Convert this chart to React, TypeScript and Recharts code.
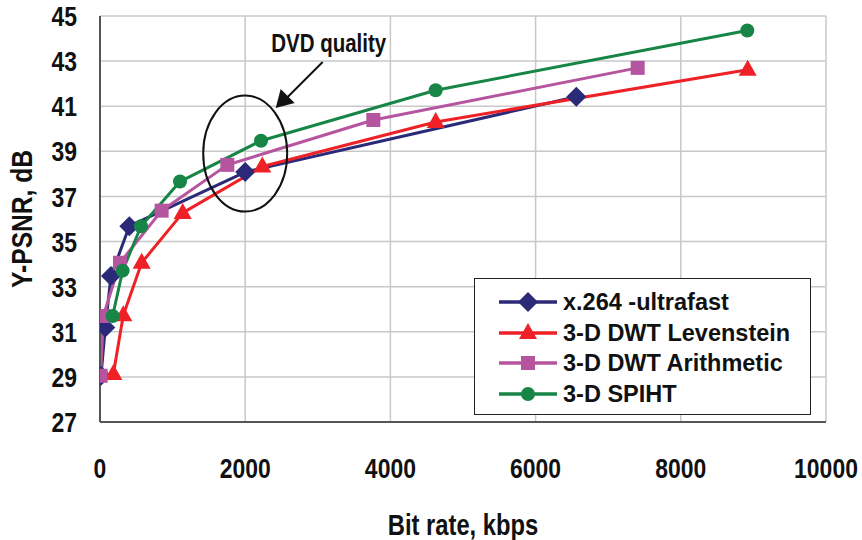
import React from "react";
import { LineChart, Line, XAxis, YAxis, CartesianGrid, ReferenceDot } from "recharts";

// bit rate (kbps) / Y-PSNR (dB)
const x264Rate = [14, 73, 151, 404, 2000, 6561];
const x264Psnr = [29.05, 31.19, 33.47, 35.68, 38.08, 41.42];
const levRate = [184, 321, 574, 1139, 2236, 4624, 8921];
const levPsnr = [29.13, 31.73, 34.06, 36.27, 38.33, 40.3, 42.62];
const arithRate = [9, 46, 275, 849, 1754, 3765, 7406];
const arithPsnr = [29.05, 31.7, 34.06, 36.37, 38.4, 40.39, 42.7];
const spihtRate = [174, 312, 565, 1102, 2218, 4624, 8916];
const spihtPsnr = [31.7, 33.71, 35.68, 37.66, 39.47, 41.71, 44.36];

const xTicks = [0, 2000, 4000, 6000, 8000, 10000];
const yTicks = [27, 29, 31, 33, 35, 37, 39, 41, 43, 45];

const FONT = "'Liberation Sans', Arial, sans-serif";
// no narrow font installed, so the condensed look is faked with a horizontal squeeze
const SQUEEZE = "scale(0.82,1)";

const zip = (xs: number[], ys: number[]) => xs.map((x, i) => ({ rate: x, psnr: ys[i] }));

type Marker = "diamond" | "triangle" | "square" | "circle";

const series = [
  { name: "x.264 -ultrafast", color: "#2b2a78", marker: "diamond" as Marker, data: zip(x264Rate, x264Psnr) },
  { name: "3-D DWT Levenstein", color: "#ee2226", marker: "triangle" as Marker, data: zip(levRate, levPsnr) },
  { name: "3-D DWT Arithmetic", color: "#b6559f", marker: "square" as Marker, data: zip(arithRate, arithPsnr) },
  { name: "3-D SPIHT", color: "#168545", marker: "circle" as Marker, data: zip(spihtRate, spihtPsnr) },
];

function markerShape(kind: Marker, cx: number, cy: number, color: string, key?: any) {
  if (kind === "diamond") {
    const s = 10;
    return <path key={key} d={`M${cx},${cy - s}L${cx + s},${cy}L${cx},${cy + s}L${cx - s},${cy}Z`} fill={color} />;
  }
  if (kind === "triangle") {
    return <path key={key} d={`M${cx},${cy - 10}L${cx + 9},${cy + 6}L${cx - 9},${cy + 6}Z`} fill={color} />;
  }
  if (kind === "square") {
    return <rect key={key} x={cx - 7} y={cy - 7} width={14} height={14} fill={color} />;
  }
  return <circle key={key} cx={cx} cy={cy} r={7} fill={color} />;
}

const XTick = ({ x, y, payload }: any) => (
  <g transform={`translate(${x},${y})`}>
    <text transform={SQUEEZE} textAnchor="middle" dy="0.71em" fill="#111" fontFamily={FONT} fontWeight={700} fontSize={28}>
      {payload.value}
    </text>
  </g>
);

const YTick = ({ x, y, payload }: any) => (
  <g transform={`translate(${x},${y})`}>
    <text transform={SQUEEZE} textAnchor="end" dy="0.36em" fill="#111" fontFamily={FONT} fontWeight={700} fontSize={28}>
      {payload.value}
    </text>
  </g>
);

// legend drawn as an overlay box inside the plot (bottom right)
const LegendBox = () => (
  <div style={{
    position: "absolute", left: 474, top: 278, border: "1.5px solid #222", background: "#fff",
    width: 337, height: 137, boxSizing: "border-box", padding: "8px 0 0 24px",
  }}>
    {series.map((s) => (
      <div key={s.name} style={{ display: "flex", alignItems: "center", height: 30.5 }}>
        <svg width={64} height={24}>
          <line x1={0} y1={12} x2={58} y2={12} stroke={s.color} strokeWidth={3.5} />
          {markerShape(s.marker, 29, 12, s.color)}
        </svg>
        <span style={{ fontFamily: FONT, fontWeight: 700, fontSize: 23.5, color: "#111", lineHeight: "24px" }}>{s.name}</span>
      </div>
    ))}
  </div>
);

export default function App() {
  return (
    <div style={{ position: "absolute", left: 0, top: 0, width: 862, height: 540, background: "#fff" }}>
      <LineChart width={862} height={540} margin={{ top: 16, right: 36, left: 0, bottom: 0 }}>
        <CartesianGrid stroke="#c8c8c8" strokeWidth={1.5} />
        <XAxis
          dataKey="rate"
          type="number"
          domain={[0, 10000]}
          ticks={xTicks}
          allowDataOverflow
          height={118}
          stroke="#555"
          strokeWidth={2}
          tickLine={false}
          tickMargin={30}
          tick={<XTick />}
          label={{
            content: ({ viewBox }: any) => {
              const cx = viewBox.x + viewBox.width / 2;
              return (
                <text transform={`translate(${cx},525) ${SQUEEZE}`} textAnchor="middle" dominantBaseline="central"
                  fill="#111" fontFamily={FONT} fontWeight={700} fontSize={29}>
                  Bit rate, kbps
                </text>
              );
            },
          }}
        />
        <YAxis
          dataKey="psnr"
          type="number"
          domain={[27, 45]}
          ticks={yTicks}
          allowDataOverflow
          width={100}
          stroke="#555"
          strokeWidth={2}
          tickLine={false}
          tickMargin={17}
          tick={<YTick />}
          label={{
            content: ({ viewBox }: any) => {
              const cy = viewBox.y + viewBox.height / 2;
              return (
                <text transform={`translate(22,${cy}) rotate(-90) ${SQUEEZE}`} textAnchor="middle" dominantBaseline="central"
                  fill="#111" fontFamily={FONT} fontWeight={700} fontSize={30}>
                  Y-PSNR, dB
                </text>
              );
            },
          }}
        />
        {series.map((s) => (
          <Line
            key={s.name}
            data={s.data}
            dataKey="psnr"
            name={s.name}
            type="linear"
            stroke={s.color}
            strokeWidth={3}
            strokeLinejoin="round"
            isAnimationActive={false}
            dot={(p: any) => markerShape(s.marker, p.cx, p.cy, s.color, p.key ?? `${s.name}-${p.index}`)}
            activeDot={false}
          />
        ))}
        {/* DVD quality ellipse */}
        <ReferenceDot
          x={2000}
          y={38.9}
          isFront
          shape={(p: any) => <ellipse cx={p.cx} cy={p.cy} rx={42} ry={58} fill="none" stroke="#111" strokeWidth={2} />}
        />
        {/* DVD quality label + arrow */}
        <ReferenceDot
          x={3150}
          y={43.8}
          isFront
          shape={(p: any) => (
            <g>
              <text transform={`translate(${p.cx},${p.cy}) ${SQUEEZE}`} textAnchor="middle" dominantBaseline="central" fill="#111"
                fontFamily={FONT} fontWeight={700} fontSize={25}>
                DVD quality
              </text>
              <line x1={p.cx - 6} y1={p.cy + 19} x2={p.cx - 44} y2={p.cy + 57} stroke="#111" strokeWidth={2} />
              <path d={`M${p.cx - 53},${p.cy + 65}L${p.cx - 48},${p.cy + 46}L${p.cx - 34},${p.cy + 60}Z`} fill="#111" />
            </g>
          )}
        />
      </LineChart>
      <LegendBox />
    </div>
  );
}
